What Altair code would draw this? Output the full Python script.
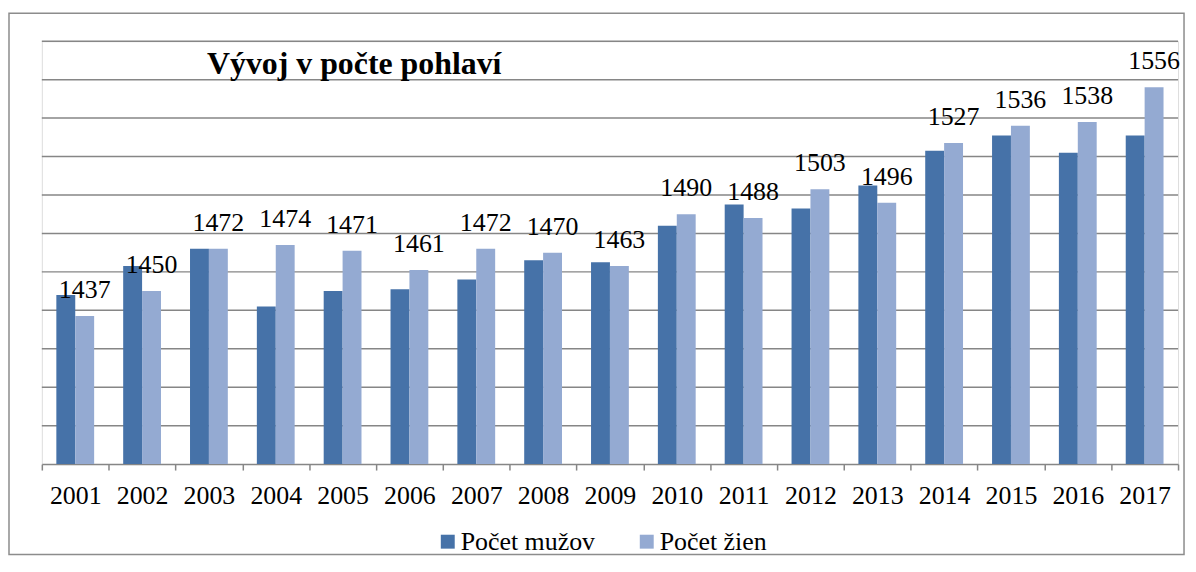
import altair as alt
import pandas as pd

years = ["2001", "2002", "2003", "2004", "2005", "2006", "2007", "2008", "2009",
         "2010", "2011", "2012", "2013", "2014", "2015", "2016", "2017"]
men = [1448, 1463, 1472, 1442, 1450, 1451, 1456, 1466, 1465,
       1484, 1495, 1493, 1505, 1523, 1531, 1522, 1531]
women = [1437, 1450, 1472, 1474, 1471, 1461, 1472, 1470, 1463,
         1490, 1488, 1503, 1496, 1527, 1536, 1538, 1556]
series = ["Počet mužov", "Počet žien"]
colors = ["#4672A8", "#94AAD2"]
y_ticks = [1360, 1380, 1400, 1420, 1440, 1460, 1480, 1500, 1520, 1540, 1560, 1580]
title_text = "Vývoj v počte pohlaví"

rows = []
for i, yr in enumerate(years):
    rows.append({"rok": yr, "pohlavie": series[0], "hodnota": men[i]})
    rows.append({"rok": yr, "pohlavie": series[1], "hodnota": women[i]})
df = pd.DataFrame(rows)

FONT = "'Liberation Serif', 'Times New Roman', serif"
FS = 26
W, H = 1142, 425
GRID = "#868686"

y_scale = alt.Scale(domain=[y_ticks[0], y_ticks[-1]], nice=False, zero=False)

x_enc = alt.X("rok:N", sort=years,
              scale=alt.Scale(paddingInner=0, paddingOuter=0),
              axis=alt.Axis(title=None, labelAngle=0, labelFont=FONT, labelFontSize=FS,
                            labelColor="black", labelPadding=13, tickSize=6,
                            tickColor=GRID, tickWidth=1.5, domainColor=GRID,
                            domainWidth=1.5, tickBand="extent", grid=False))
xoff = alt.XOffset("pohlavie:N", sort=series,
                   scale=alt.Scale(paddingInner=0, paddingOuter=0.768))

# horizontal gridlines drawn from the tick values
grid = alt.Chart(pd.DataFrame({"g": y_ticks[1:]})).mark_rule(
    color=GRID, strokeWidth=1.5
).encode(y=alt.Y("g:Q", scale=y_scale, axis=None))

base = alt.Chart(df)

bars = base.mark_bar().encode(
    x=x_enc,
    xOffset=xoff,
    y=alt.Y("hodnota:Q", scale=y_scale, axis=None),
    y2=alt.datum(y_ticks[0]),
    color=alt.Color("pohlavie:N", sort=series,
                    scale=alt.Scale(domain=series, range=colors),
                    legend=alt.Legend(title=None, orient="none", legendX=395, legendY=490,
                                      direction="horizontal", symbolType="square",
                                      symbolSize=196, symbolStrokeWidth=0,
                                      labelFont=FONT, labelFontSize=FS, labelColor="black",
                                      labelOffset=0, columnPadding=38, padding=0)),
)

labels = base.transform_filter(alt.datum.pohlavie == series[1]).mark_text(
    font=FONT, fontSize=FS, color="black", baseline="alphabetic", align="center", dy=-18
).encode(
    x=alt.X("rok:N", sort=years),
    xOffset=alt.XOffset("pohlavie:N", sort=series),
    y=alt.Y("hodnota:Q", scale=y_scale, axis=None),
    text=alt.Text("hodnota:Q"),
)

title = alt.Chart(pd.DataFrame({"t": [title_text]})).mark_text(
    font=FONT, fontSize=32, fontWeight="bold", color="black",
    align="left", baseline="alphabetic"
).encode(x=alt.value(166), y=alt.value(33), text="t:N")

frame = alt.Chart(pd.DataFrame({"t": [0]})).mark_rect(
    fillOpacity=0, stroke="#8c8c8c", strokeWidth=1.5
).encode(x=alt.value(-33), x2=alt.value(1148), y=alt.value(-28), y2=alt.value(516))

chart = alt.layer(frame, grid, bars, labels, title).properties(
    width=W, height=H,
    autosize=alt.AutoSizeParams(type="none"),
    padding={"left": 34, "top": 32, "right": 10, "bottom": 93},
).configure_view(stroke=None).configure(background="white")

chart.save("out.html", embed_options={"renderer": "svg", "actions": False})
